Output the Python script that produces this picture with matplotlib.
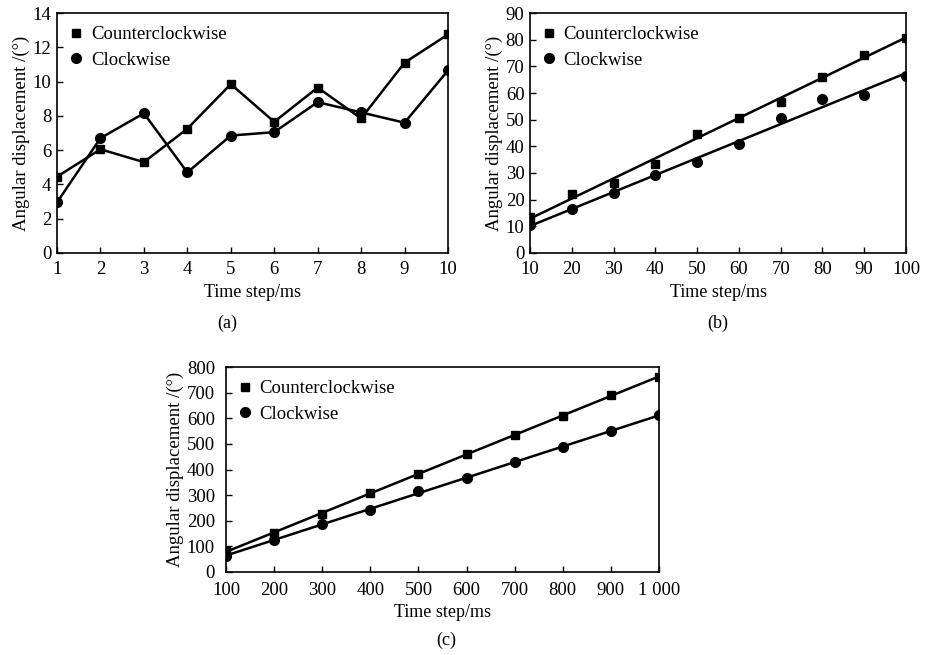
import numpy as np
import matplotlib.pyplot as plt

plt.rcParams['font.family'] = ['Liberation Serif', 'DejaVu Serif']
plt.rcParams['font.size'] = 13

# (a) 1-10 ms
t_a = [1, 2, 3, 4, 5, 6, 7, 8, 9, 10]
ccw_a = [4.45, 6.05, 5.3, 7.25, 9.85, 7.65, 9.65, 7.85, 11.1, 12.75]
cw_a = [2.95, 6.7, 8.15, 4.7, 6.85, 7.05, 8.8, 8.2, 7.6, 10.65]

# (b) 10-100 ms
t_b = [10, 20, 30, 40, 50, 60, 70, 80, 90, 100]
ccw_b = [13.5, 22.1, 26.3, 33.5, 44.6, 50.5, 56.8, 66.1, 74.4, 80.7]
cw_b = [10.4, 16.6, 22.5, 29.1, 34.1, 41.0, 50.6, 57.9, 59.4, 66.3]

# (c) 100-1000 ms
t_c = [100, 200, 300, 400, 500, 600, 700, 800, 900, 1000]
ccw_c = [82, 154, 226, 308, 381, 461, 535, 610, 692, 760]
cw_c = [63, 124, 187, 243, 316, 368, 428, 488, 550, 611]
xtl_c = ['100', '200', '300', '400', '500', '600', '700', '800', '900', '1 000']

fig = plt.figure(figsize=(9.26, 6.55), dpi=100)
W, H = 926, 655


def px_axes(l, t, r, b):
    return fig.add_axes([l / W, 1 - b / H, (r - l) / W, (b - t) / H])


def style(ax, ypad=4, xpad=6):
    ax.tick_params(direction='in', length=4, width=1, top=False, right=False,
                   labelsize=13.5)
    ax.tick_params(axis='x', pad=xpad)
    ax.tick_params(axis='y', pad=ypad)
    for s in ax.spines.values():
        s.set_linewidth(1.2)
    ax.set_xlabel('Time step/ms', fontsize=13, labelpad=4)
    ax.set_ylabel('Angular displacement /(°)', fontsize=13.5, labelpad=2)
    ax.legend(loc='upper left', frameon=False, handlelength=0.6,
              handletextpad=0.5, borderaxespad=0.3, labelspacing=0.45,
              fontsize=13.5)


def fitline(ax, x, y):
    k, b = np.polyfit(x, y, 1)
    xx = np.array([x[0], x[-1]])
    ax.plot(xx, k * xx + b, color='black', lw=1.8)


# (a)
ax = px_axes(57, 13, 448, 253)
ax.plot(t_a, ccw_a, color='black', lw=1.8)
ax.plot(t_a, cw_a, color='black', lw=1.8)
ax.plot(t_a, ccw_a, 's', color='black', ms=6, label='Counterclockwise')
ax.plot(t_a, cw_a, 'o', color='black', ms=7, label='Clockwise')
ax.set_xlim(1, 10)
ax.set_ylim(0, 14)
ax.set_xticks(t_a)
ax.set_yticks(range(0, 15, 2))
style(ax)
fig.text(227 / W, 1 - 323 / H, '(a)', ha='center', va='center', fontsize=13)

# (b)
ax = px_axes(530, 13, 906, 253)
fitline(ax, t_b, ccw_b)
fitline(ax, t_b, cw_b)
ax.plot(t_b, ccw_b, 's', color='black', ms=6, label='Counterclockwise')
ax.plot(t_b, cw_b, 'o', color='black', ms=7, label='Clockwise')
ax.set_xlim(10, 100)
ax.set_ylim(0, 90)
ax.set_xticks(t_b)
ax.set_yticks(range(0, 91, 10))
style(ax)
fig.text(718 / W, 1 - 323 / H, '(b)', ha='center', va='center', fontsize=13)

# (c)
ax = px_axes(226, 367, 659, 572)
fitline(ax, t_c, ccw_c)
fitline(ax, t_c, cw_c)
ax.plot(t_c, ccw_c, 's', color='black', ms=6, label='Counterclockwise')
ax.plot(t_c, cw_c, 'o', color='black', ms=7, label='Clockwise')
ax.set_xlim(100, 1000)
ax.set_ylim(0, 800)
ax.set_xticks(t_c)
ax.set_xticklabels(xtl_c)
ax.set_yticks(range(0, 801, 100))
style(ax, ypad=8, xpad=7)
fig.text(446 / W, 1 - 640 / H, '(c)', ha='center', va='center', fontsize=13)

plt.savefig('out.png', dpi=100)
